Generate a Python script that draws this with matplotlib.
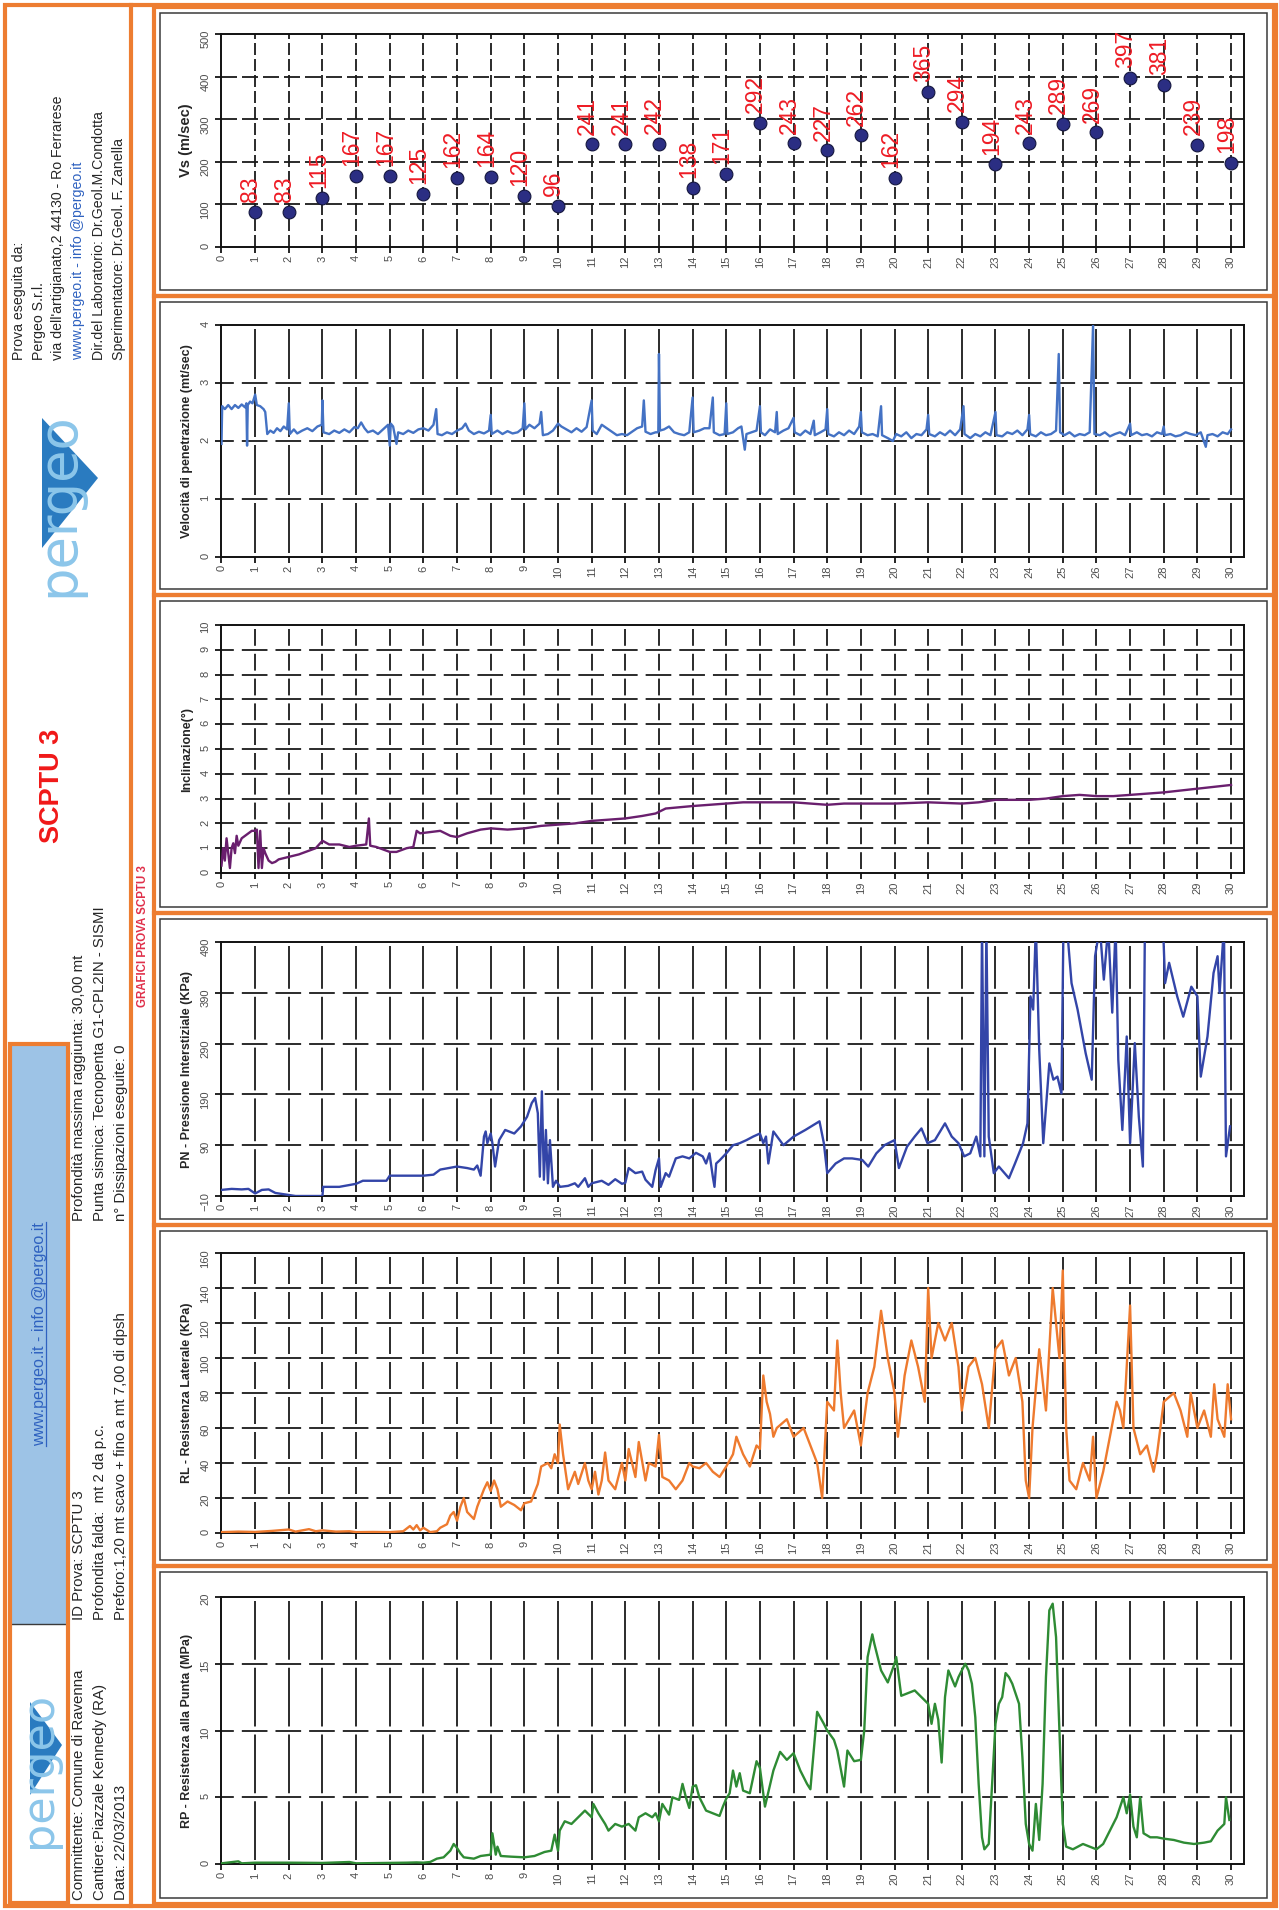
"""SCPTU 3 - seismic piezocone test sheet (landscape page turned on its side).

Six depth profiles share the depth axis (0-30 m, drawn horizontally):
Vs, penetration speed, inclination, pore pressure, sleeve and tip resistance.
"""

import matplotlib

matplotlib.use("Agg")

import matplotlib.pyplot as plt  # noqa: E402
from matplotlib.lines import Line2D  # noqa: E402
from matplotlib.patches import Polygon, Rectangle  # noqa: E402


# ---------------------------------------------------------------------------
# Page setup
# ---------------------------------------------------------------------------
PAGE_W, PAGE_H = 1279, 1910
DPI = 100
PT = 72.0 / DPI  # points per pixel

ORANGE = "#ED7D31"
FRAME_DARK = "#3A3A3A"
GRID_COLOR = "#1A1A1A"
TEXT_DARK = "#262626"
TICK_GRAY = "#4D4D4D"
LINK_BLUE = "#2F62C0"
TITLE_RED = "#F01818"

plt.rcParams["font.family"] = ["Liberation Sans", "DejaVu Sans"]
plt.rcParams["lines.scale_dashes"] = False


# ---------------------------------------------------------------------------
# Data (depth in m)
# ---------------------------------------------------------------------------
DEPTH_TICKS = list(range(0, 31))

VS_DEPTH = list(range(1, 31))
VS_VALUES = [83, 83, 115, 167, 167, 125, 162, 164, 120, 96,
             241, 241, 242, 138, 171, 292, 243, 227, 262, 162,
             365, 294, 194, 243, 289, 269, 397, 381, 239, 198]
VS_TICKS = [0, 100, 200, 300, 400, 500]

VEL_READINGS = [
    (0.00, 1.95), (0.02, 2.60), (0.10, 2.55), (0.20, 2.62), (0.30, 2.55),
    (0.40, 2.62), (0.50, 2.57), (0.60, 2.63), (0.70, 2.58), (0.74, 2.65),
    (0.76, 1.92), (0.78, 2.62), (0.85, 2.68), (0.92, 2.65), (1.00, 2.80),
    (1.05, 2.62), (1.15, 2.60), (1.25, 2.55), (1.30, 2.50), (1.36, 2.12),
    (1.45, 2.18), (1.55, 2.14), (1.65, 2.22), (1.75, 2.17), (1.85, 2.25),
    (1.95, 2.20), (2.00, 2.65), (2.03, 2.12), (2.15, 2.20), (2.25, 2.13),
    (2.40, 2.18), (2.55, 2.22), (2.70, 2.17), (2.85, 2.25), (2.98, 2.28),
    (3.00, 2.70), (3.03, 2.15), (3.20, 2.12), (3.35, 2.18), (3.50, 2.14),
    (3.65, 2.20), (3.80, 2.15), (3.95, 2.24), (4.05, 2.22), (4.15, 2.32),
    (4.25, 2.22), (4.35, 2.15), (4.50, 2.18), (4.65, 2.12), (4.80, 2.20),
    (4.95, 2.28), (5.00, 1.92), (5.03, 2.30), (5.10, 2.25), (5.20, 1.95),
    (5.25, 2.15), (5.40, 2.12), (5.55, 2.18), (5.70, 2.14), (5.85, 2.20),
    (6.00, 2.22), (6.15, 2.18), (6.30, 2.28), (6.38, 2.55), (6.42, 2.12),
    (6.55, 2.10), (6.70, 2.15), (6.85, 2.12), (7.00, 2.18), (7.15, 2.22),
    (7.25, 2.30), (7.35, 2.18), (7.50, 2.12), (7.65, 2.16), (7.80, 2.13),
    (7.95, 2.18), (8.00, 2.45), (8.03, 2.12), (8.20, 2.18), (8.35, 2.12),
    (8.50, 2.17), (8.65, 2.13), (8.80, 2.15), (8.95, 2.22), (9.00, 2.65),
    (9.03, 2.20), (9.15, 2.28), (9.30, 2.22), (9.45, 2.30), (9.50, 2.50),
    (9.55, 2.10), (9.70, 2.12), (9.85, 2.18), (10.00, 2.30), (10.10, 2.25),
    (10.25, 2.20), (10.40, 2.15), (10.55, 2.22), (10.70, 2.16), (10.85, 2.24),
    (11.00, 2.70), (11.03, 2.18), (11.15, 2.12), (11.30, 2.28), (11.45, 2.22),
    (11.60, 2.16), (11.75, 2.10), (11.90, 2.12), (12.05, 2.10), (12.20, 2.16),
    (12.35, 2.22), (12.50, 2.25), (12.55, 2.70), (12.60, 2.16), (12.75, 2.12),
    (12.90, 2.15), (12.98, 2.15), (13.00, 3.50), (13.03, 2.18), (13.15, 2.20),
    (13.30, 2.25), (13.45, 2.15), (13.60, 2.12), (13.75, 2.10), (13.90, 2.15),
    (14.00, 2.75), (14.03, 2.15), (14.20, 2.18), (14.35, 2.22), (14.50, 2.22),
    (14.60, 2.75), (14.63, 2.15), (14.80, 2.10), (14.95, 2.12), (15.00, 2.65),
    (15.03, 2.12), (15.20, 2.15), (15.35, 2.22), (15.45, 2.25), (15.55, 1.85),
    (15.60, 2.12), (15.75, 2.15), (15.90, 2.18), (16.00, 2.60), (16.03, 2.15),
    (16.15, 2.10), (16.30, 2.20), (16.45, 2.15), (16.50, 2.50), (16.53, 2.12),
    (16.70, 2.18), (16.85, 2.22), (17.00, 2.40), (17.03, 2.15), (17.20, 2.10),
    (17.35, 2.18), (17.50, 2.12), (17.60, 2.35), (17.63, 2.10), (17.80, 2.15),
    (17.95, 2.20), (18.00, 2.55), (18.03, 2.12), (18.20, 2.08), (18.35, 2.15),
    (18.50, 2.10), (18.65, 2.18), (18.80, 2.12), (18.95, 2.25), (19.00, 2.50),
    (19.03, 2.15), (19.20, 2.10), (19.35, 2.12), (19.50, 2.08), (19.60, 2.60),
    (19.63, 2.10), (19.80, 2.05), (19.95, 2.00), (20.05, 2.12), (20.20, 2.08),
    (20.35, 2.15), (20.50, 2.05), (20.65, 2.12), (20.80, 2.10), (20.95, 2.20),
    (21.00, 2.45), (21.03, 2.12), (21.20, 2.08), (21.35, 2.15), (21.50, 2.10),
    (21.65, 2.18), (21.80, 2.10), (21.95, 2.20), (22.05, 2.60), (22.08, 2.12),
    (22.25, 2.05), (22.40, 2.12), (22.55, 2.08), (22.70, 2.15), (22.85, 2.10),
    (23.00, 2.50), (23.03, 2.10), (23.20, 2.08), (23.35, 2.15), (23.50, 2.12),
    (23.65, 2.18), (23.80, 2.10), (23.95, 2.20), (24.00, 2.45), (24.03, 2.12),
    (24.20, 2.08), (24.35, 2.15), (24.50, 2.10), (24.65, 2.12), (24.80, 2.18),
    (24.88, 3.50), (24.92, 2.15), (25.05, 2.10), (25.20, 2.15), (25.35, 2.08),
    (25.50, 2.12), (25.65, 2.10), (25.80, 2.15), (25.90, 4.00), (25.94, 2.12),
    (26.10, 2.10), (26.25, 2.15), (26.40, 2.08), (26.55, 2.12), (26.70, 2.15),
    (26.85, 2.10), (27.00, 2.30), (27.03, 2.10), (27.20, 2.15), (27.35, 2.10),
    (27.50, 2.12), (27.65, 2.08), (27.80, 2.15), (27.95, 2.12), (28.00, 2.25),
    (28.03, 2.10), (28.20, 2.12), (28.35, 2.08), (28.50, 2.10), (28.65, 2.15),
    (28.80, 2.12), (28.95, 2.10), (29.10, 2.15), (29.25, 1.90), (29.30, 2.10),
    (29.45, 2.12), (29.60, 2.08), (29.75, 2.15), (29.90, 2.12), (30.00, 2.20),
]
VEL_TICKS = [0, 1, 2, 3, 4]

INCL_READINGS = [
    (0.00, 0.30), (0.05, 1.00), (0.10, 0.50), (0.15, 1.40), (0.20, 0.80),
    (0.25, 0.20), (0.30, 1.00), (0.35, 1.20), (0.40, 0.80), (0.45, 1.50),
    (0.50, 1.10), (0.60, 1.40), (0.70, 1.50), (0.80, 1.60), (0.90, 1.70),
    (1.00, 1.70), (1.05, 1.75), (1.10, 0.20), (1.15, 1.70), (1.20, 0.20),
    (1.25, 1.00), (1.30, 0.80), (1.40, 0.50), (1.50, 0.40), (1.60, 0.45),
    (1.70, 0.55), (2.00, 0.65), (2.30, 0.75), (2.60, 0.90), (2.80, 1.00),
    (3.00, 1.30), (3.20, 1.15), (3.50, 1.15), (3.80, 1.05), (4.00, 1.10),
    (4.30, 1.15), (4.38, 2.20), (4.42, 1.10), (4.60, 1.05), (4.80, 0.95),
    (5.00, 0.85), (5.20, 0.85), (5.50, 1.00), (5.70, 1.05), (5.80, 1.70),
    (5.90, 1.60), (6.20, 1.65), (6.50, 1.70), (6.80, 1.50), (7.00, 1.45),
    (7.30, 1.60), (7.70, 1.75), (8.00, 1.80), (8.50, 1.75), (9.00, 1.80),
    (9.50, 1.90), (10.00, 1.95), (10.50, 2.00), (11.00, 2.10), (11.50, 2.15),
    (12.00, 2.20), (12.50, 2.30), (12.90, 2.40), (13.20, 2.60), (13.60, 2.65),
    (14.00, 2.70), (14.50, 2.75), (15.00, 2.80), (15.50, 2.85), (16.00, 2.85),
    (16.50, 2.85), (17.00, 2.85), (17.50, 2.80), (18.00, 2.75), (18.50, 2.80),
    (19.00, 2.80), (19.50, 2.80), (20.00, 2.80), (21.00, 2.85), (22.00, 2.80),
    (22.50, 2.85), (23.00, 2.95), (23.50, 2.95), (24.00, 2.95), (24.50, 3.00),
    (25.00, 3.10), (25.50, 3.15), (26.00, 3.10), (26.50, 3.10), (27.00, 3.15),
    (28.00, 3.25), (29.00, 3.40), (30.00, 3.55),
]
INCL_TICKS = list(range(0, 11))

PN_READINGS = [
    (0.00, 2), (0.30, 4), (0.60, 3), (0.80, 4), (1.00, -5), (1.20, 2),
    (1.40, 3), (1.60, -4), (2.00, -8), (2.20, -10), (3.00, -10), (3.02, 8),
    (3.50, 8), (4.00, 14), (4.20, 20), (4.90, 20), (5.00, 30), (6.00, 30),
    (6.30, 32), (6.50, 42), (7.00, 48), (7.30, 45), (7.50, 42), (7.60, 50),
    (7.70, 30), (7.80, 107), (7.85, 117), (7.90, 94), (8.00, 113), (8.05, 94),
    (8.13, 48), (8.25, 100), (8.43, 120), (8.70, 113), (8.90, 127), (9.08, 146),
    (9.22, 173), (9.32, 183), (9.40, 153), (9.46, 28), (9.52, 196), (9.58, 22),
    (9.64, 120), (9.70, 15), (9.76, 100), (9.85, 8), (9.94, 20), (10.06, 8),
    (10.30, 10), (10.50, 15), (10.60, 8), (10.80, 25), (10.90, 8), (11.00, 15),
    (11.30, 20), (11.50, 12), (11.70, 23), (11.90, 14), (12.00, 16), (12.10, 45),
    (12.30, 35), (12.50, 38), (12.60, 22), (12.80, 8), (12.90, 41), (13.00, 64),
    (13.05, 8), (13.20, 35), (13.30, 28), (13.50, 64), (13.70, 68), (13.90, 64),
    (14.10, 75), (14.30, 68), (14.40, 54), (14.50, 74), (14.60, 28), (14.65, 8),
    (14.70, 54), (14.80, 60), (15.00, 74), (15.20, 90), (15.40, 94), (15.60, 100),
    (15.80, 107), (16.00, 113), (16.10, 94), (16.18, 107), (16.25, 54),
    (16.40, 117), (16.70, 90), (17.00, 107), (17.35, 120), (17.60, 130),
    (17.77, 137), (17.90, 94), (18.00, 35), (18.25, 54), (18.50, 64),
    (18.74, 64), (19.04, 61), (19.22, 48), (19.46, 74), (19.70, 90),
    (20.00, 100), (20.13, 45), (20.37, 87), (20.60, 107), (20.80, 123),
    (20.98, 94), (21.20, 100), (21.50, 133), (21.70, 107), (21.90, 94),
    (22.07, 68), (22.25, 74), (22.43, 107), (22.55, 68), (22.60, 520),
    (22.67, 68), (22.73, 520), (22.80, 107), (22.95, 35), (23.10, 48),
    (23.27, 35), (23.40, 25), (23.58, 54), (23.82, 94), (23.95, 133),
    (24.04, 383), (24.12, 357), (24.20, 520), (24.30, 278), (24.42, 94),
    (24.60, 251), (24.72, 219), (24.84, 225), (24.96, 192), (25.02, 520),
    (25.14, 507), (25.26, 409), (25.44, 357), (25.68, 271), (25.86, 219),
    (25.96, 462), (26.10, 520), (26.22, 416), (26.35, 520), (26.47, 351),
    (26.57, 520), (26.65, 258), (26.77, 120), (26.90, 304), (27.00, 94),
    (27.14, 291), (27.26, 146), (27.38, 48), (27.44, 520), (27.60, 505),
    (27.74, 520), (27.98, 520), (28.04, 409), (28.16, 449), (28.40, 383),
    (28.58, 343), (28.82, 402), (29.00, 383), (29.10, 225), (29.30, 304),
    (29.48, 429), (29.60, 462), (29.66, 390), (29.79, 520), (29.85, 68),
    (29.97, 127),
]
PN_TICKS = [-10, 90, 190, 290, 390, 490]

RL_READINGS = [
    (0.00, 0.5), (0.50, 0.8), (1.00, 0.6), (1.50, 1.2), (2.00, 2.0),
    (2.20, 0.8), (2.60, 2.2), (2.80, 1.0), (3.00, 1.5), (3.40, 0.8),
    (3.80, 1.0), (4.00, 0.5), (4.50, 0.6), (5.00, 0.5), (5.40, 1.0),
    (5.60, 4.0), (5.70, 2.0), (5.80, 4.5), (5.90, 1.5), (6.00, 3.0),
    (6.20, 0.5), (6.40, 1.0), (6.50, 3.0), (6.70, 5.0), (6.80, 10.0),
    (6.90, 12.0), (7.00, 7.0), (7.10, 15.0), (7.20, 20.0), (7.30, 12.0),
    (7.50, 8.0), (7.60, 15.0), (7.80, 25.0), (7.90, 29.0), (8.00, 24.0),
    (8.10, 30.0), (8.20, 25.0), (8.30, 15.0), (8.50, 18.0), (8.70, 16.0),
    (8.90, 13.0), (9.00, 17.0), (9.20, 18.0), (9.40, 28.0), (9.50, 38.0),
    (9.70, 40.0), (9.80, 37.0), (9.90, 45.0), (10.00, 40.0), (10.05, 62.0),
    (10.15, 45.0), (10.30, 25.0), (10.50, 35.0), (10.60, 28.0), (10.80, 40.0),
    (10.90, 30.0), (11.00, 25.0), (11.10, 35.0), (11.20, 22.0), (11.30, 30.0),
    (11.40, 46.0), (11.50, 30.0), (11.70, 25.0), (11.90, 40.0), (12.00, 30.0),
    (12.10, 48.0), (12.30, 32.0), (12.40, 52.0), (12.60, 30.0), (12.70, 40.0),
    (12.90, 38.0), (13.00, 56.0), (13.10, 32.0), (13.30, 30.0), (13.50, 25.0),
    (13.70, 30.0), (13.90, 40.0), (14.00, 38.0), (14.20, 37.0), (14.40, 40.0),
    (14.60, 35.0), (14.80, 32.0), (15.00, 38.0), (15.20, 45.0), (15.30, 55.0),
    (15.50, 45.0), (15.70, 38.0), (15.90, 50.0), (16.00, 48.0), (16.10, 90.0),
    (16.20, 75.0), (16.30, 68.0), (16.40, 55.0), (16.50, 60.0), (16.80, 65.0),
    (17.00, 55.0), (17.30, 60.0), (17.50, 50.0), (17.70, 40.0), (17.85, 20.0),
    (18.00, 75.0), (18.20, 70.0), (18.30, 110.0), (18.40, 80.0), (18.50, 60.0),
    (18.80, 70.0), (19.00, 50.0), (19.20, 80.0), (19.40, 95.0), (19.60, 127.0),
    (19.80, 100.0), (20.00, 80.0), (20.10, 55.0), (20.30, 90.0), (20.50, 110.0),
    (20.70, 95.0), (20.90, 75.0), (21.00, 140.0), (21.10, 100.0), (21.30, 120.0),
    (21.50, 110.0), (21.70, 120.0), (21.90, 95.0), (22.00, 70.0), (22.20, 95.0),
    (22.40, 100.0), (22.60, 85.0), (22.80, 60.0), (23.00, 105.0), (23.20, 110.0),
    (23.40, 90.0), (23.60, 100.0), (23.80, 75.0), (23.90, 30.0), (24.00, 20.0),
    (24.10, 60.0), (24.30, 105.0), (24.50, 70.0), (24.70, 140.0), (24.90, 100.0),
    (25.00, 150.0), (25.10, 60.0), (25.20, 30.0), (25.40, 25.0), (25.60, 40.0),
    (25.80, 30.0), (25.90, 55.0), (26.00, 20.0), (26.20, 35.0), (26.40, 55.0),
    (26.60, 75.0), (26.70, 70.0), (26.80, 60.0), (27.00, 130.0), (27.10, 60.0),
    (27.30, 45.0), (27.50, 50.0), (27.70, 35.0), (27.80, 45.0), (27.90, 60.0),
    (28.00, 75.0), (28.30, 80.0), (28.50, 70.0), (28.70, 55.0), (28.80, 80.0),
    (29.00, 60.0), (29.20, 70.0), (29.40, 55.0), (29.50, 85.0), (29.60, 65.0),
    (29.80, 55.0), (29.90, 85.0), (30.00, 65.0),
]
RL_TICKS = [0, 20, 40, 60, 80, 100, 120, 140, 160]

RP_READINGS = [
    (0.00, 0.05), (0.50, 0.20), (0.60, 0.05), (1.00, 0.10), (2.00, 0.10),
    (3.00, 0.08), (3.80, 0.15), (4.00, 0.05), (5.00, 0.08), (5.50, 0.10),
    (5.80, 0.12), (6.00, 0.10), (6.20, 0.15), (6.40, 0.40), (6.60, 0.50),
    (6.80, 1.00), (6.90, 1.50), (7.00, 1.20), (7.10, 0.80), (7.20, 0.50),
    (7.50, 0.40), (7.70, 0.60), (8.00, 0.70), (8.05, 2.30), (8.15, 0.70),
    (8.20, 1.30), (8.30, 0.60), (8.60, 0.55), (9.00, 0.50), (9.30, 0.60),
    (9.60, 0.90), (9.80, 1.00), (9.90, 2.20), (10.00, 1.00), (10.05, 2.50),
    (10.20, 3.20), (10.40, 3.00), (10.60, 3.50), (10.80, 4.00), (11.00, 3.50),
    (11.05, 4.50), (11.20, 3.80), (11.40, 3.00), (11.50, 2.50), (11.70, 3.00),
    (11.90, 2.80), (12.10, 3.00), (12.30, 2.50), (12.40, 3.50), (12.60, 3.80),
    (12.80, 3.50), (12.90, 3.80), (13.00, 3.20), (13.10, 4.50), (13.30, 3.70),
    (13.40, 5.00), (13.60, 4.80), (13.70, 6.00), (13.80, 5.00), (13.90, 4.20),
    (14.00, 5.80), (14.10, 5.90), (14.20, 5.00), (14.40, 4.00), (14.60, 3.80),
    (14.80, 3.60), (14.90, 4.30), (15.00, 4.90), (15.10, 5.30), (15.20, 7.00),
    (15.30, 5.80), (15.40, 6.80), (15.50, 5.50), (15.70, 5.30), (15.90, 7.70),
    (16.00, 7.20), (16.15, 4.30), (16.40, 7.00), (16.60, 8.40), (16.80, 7.80),
    (17.00, 8.30), (17.20, 7.00), (17.40, 6.00), (17.50, 5.60), (17.70, 11.40),
    (17.90, 10.50), (18.00, 10.00), (18.20, 9.30), (18.30, 8.50), (18.50, 5.80),
    (18.60, 8.50), (18.80, 7.70), (19.00, 7.80), (19.10, 10.00), (19.20, 15.50),
    (19.34, 17.20), (19.40, 16.50), (19.60, 14.50), (19.80, 13.60), (20.00, 15.00),
    (20.05, 15.50), (20.20, 12.60), (20.40, 12.80), (20.60, 13.00), (20.80, 12.50),
    (21.00, 12.00), (21.10, 10.50), (21.20, 12.00), (21.30, 10.80), (21.40, 7.60),
    (21.50, 12.50), (21.60, 14.50), (21.80, 13.30), (21.90, 14.00), (22.00, 14.50),
    (22.10, 15.00), (22.20, 14.50), (22.30, 13.50), (22.40, 11.00), (22.50, 6.00),
    (22.60, 2.00), (22.67, 1.10), (22.80, 1.50), (22.90, 6.00), (23.00, 10.50),
    (23.10, 12.00), (23.20, 12.50), (23.30, 14.30), (23.40, 14.00), (23.50, 13.50),
    (23.70, 12.00), (23.80, 8.00), (23.90, 3.00), (24.00, 1.50), (24.10, 1.00),
    (24.20, 4.50), (24.30, 1.80), (24.40, 6.00), (24.50, 14.00), (24.60, 19.00),
    (24.70, 19.50), (24.80, 17.00), (24.90, 10.00), (25.00, 3.00), (25.10, 1.30),
    (25.30, 1.10), (25.60, 1.50), (25.80, 1.30), (26.00, 1.10), (26.20, 1.50),
    (26.40, 2.50), (26.60, 3.50), (26.80, 5.00), (26.90, 3.80), (27.00, 5.20),
    (27.10, 2.80), (27.20, 2.00), (27.30, 5.00), (27.40, 2.30), (27.60, 2.00),
    (27.80, 2.00), (28.00, 1.90), (28.30, 1.80), (28.60, 1.60), (28.90, 1.50),
    (29.20, 1.60), (29.40, 1.70), (29.60, 2.50), (29.80, 3.00), (29.85, 5.00),
    (29.95, 3.30),
]
RP_TICKS = [0, 5, 10, 15, 20]


# ---------------------------------------------------------------------------
# Layout (pixels from the page top-left corner)
# ---------------------------------------------------------------------------
PLOT_LEFT, PLOT_RIGHT = 221.5, 1244.5  # depth 0 .. depth 30.4
DEPTH_MAX = 30.4
FRAME_LEFT, FRAME_RIGHT = 154, 1274

# name: (frame top, frame bottom, plot top, plot bottom)
PANEL_BOXES = {
    "vs": (7, 296, 34, 247),
    "vel": (296, 595, 325, 557),
    "incl": (595, 913, 625, 873),
    "pn": (913, 1225, 942, 1196),
    "rl": (1225, 1566, 1253, 1533),
    "rp": (1566, 1904, 1597, 1864),
}


def fig_rect(left, top, right, bottom):
    return [left / PAGE_W, 1 - bottom / PAGE_H,
            (right - left) / PAGE_W, (bottom - top) / PAGE_H]


# ---------------------------------------------------------------------------
# Panel helpers
# ---------------------------------------------------------------------------
def style_axes(ax, yticks, ylabel, label_size):
    ax.set_xlim(0, DEPTH_MAX)
    ax.set_ylim(yticks[0], yticks[-1])
    ax.set_xticks(DEPTH_TICKS)
    ax.set_yticks(yticks)
    ax.tick_params(axis="x", labelrotation=90, labelsize=8, labelcolor=TICK_GRAY,
                   length=4, width=1.2, pad=2, color="black")
    ax.tick_params(axis="y", labelrotation=90, labelsize=8, labelcolor=TICK_GRAY,
                   length=4, width=1.2, pad=4, color="black")
    for spine in ax.spines.values():
        spine.set_linewidth(1.4)
        spine.set_color("#111111")
    ax.set_ylabel(ylabel, fontsize=label_size, fontweight="bold",
                  color=TEXT_DARK, labelpad=5)
    ax.set_facecolor("white")


def draw_grid(ax, yticks, plot_h, aligned):
    """Black dashed grid; on the larger panels the dash period follows the
    cell size so the dashes meet in crosses at every intersection."""
    lw = 1.3
    cell_w = (PLOT_RIGHT - PLOT_LEFT) / DEPTH_MAX
    cell_h = plot_h / (len(yticks) - 1)
    if aligned:
        gap = 8 * PT
        sv = cell_h * PT
        sh = cell_w * PT
        v_style = (sv - gap / 2, (sv - gap, gap))
        h_style = ((sh - gap) / 2, (sh - gap, gap))
    else:
        v_style = (0, (12 * PT, 4 * PT))
        h_style = (0, (16 * PT, 5 * PT))
    for d in DEPTH_TICKS[1:]:
        ax.axvline(d, color=GRID_COLOR, lw=lw, linestyle=v_style, zorder=1)
    for v in yticks[1:-1]:
        ax.axhline(v, color=GRID_COLOR, lw=lw, linestyle=h_style, zorder=1)


def make_panel(fig, key, yticks, ylabel, aligned=True, label_size=9):
    _, _, top, bottom = PANEL_BOXES[key]
    ax = fig.add_axes(fig_rect(PLOT_LEFT, top, PLOT_RIGHT, bottom), zorder=2)
    style_axes(ax, yticks, ylabel, label_size)
    draw_grid(ax, yticks, bottom - top, aligned)
    return ax


def plot_profile(ax, readings, color):
    depth = [d for d, _ in readings]
    values = [v for _, v in readings]
    ax.plot(depth, values, color=color, lw=1.7, zorder=3,
            solid_joinstyle="round")


# ---------------------------------------------------------------------------
# Page frame and header block
# ---------------------------------------------------------------------------
def draw_frames(page):
    def box(x0, y0, x1, y1, color, lw, face="none", z=1):
        page.add_patch(Rectangle((x0, y0), x1 - x0, y1 - y0, facecolor=face,
                                 edgecolor=color, lw=lw, zorder=z))

    # blue link band and white logo cell of the lower header box
    box(10, 1044, 68, 1624, "none", 0, face="#9DC3E6", z=0)
    page.plot([10, 68], [1624, 1624], color=FRAME_DARK, lw=1.0, zorder=1)

    box(5, 5, 1276, 1906, ORANGE, 3.0)
    box(10, 1044, 68, 1903, ORANGE, 3.0)
    page.plot([131, 131], [5, 1906], color=ORANGE, lw=3.0, zorder=1)
    for top, bottom, _, _ in PANEL_BOXES.values():
        box(FRAME_LEFT, top, FRAME_RIGHT, bottom, ORANGE, 3.0)
        box(FRAME_LEFT + 6, top + 6, FRAME_RIGHT - 7, bottom - 6,
            FRAME_DARK, 1.1)


def draw_logo(page, cx, cy, size, tri):
    page.add_patch(Polygon(tri, closed=True, facecolor="#2A7BC0",
                           edgecolor="none", zorder=2))
    page.text(cx, cy, "pergeo", rotation=90, ha="center", va="center",
              fontsize=size, color="#8CC6EA", family=["DejaVu Sans"],
              zorder=3)


def vtext(page, x, y, s, size=10.8, color=TEXT_DARK, weight="normal"):
    return page.text(x, y, s, rotation=90, ha="center", va="bottom",
                     fontsize=size, color=color, fontweight=weight, zorder=3)


def draw_header(fig, page):
    company = [
        "Prova eseguita da:",
        "Pergeo S.r.l.",
        "via dell'artigianato,2 44130 - Ro Ferrarese",
        "www.pergeo.it - info @pergeo.it",
        "Dir.del Laboratorio: Dr.Geol.M.Condotta",
        "Sperimentatore: Dr.Geol. F. Zanella",
    ]
    for x, line in zip([19, 39, 58, 78, 99, 119], company):
        color = LINK_BLUE if line.startswith("www") else TEXT_DARK
        vtext(page, x, 360, line, size=10.2, color=color)

    draw_logo(page, 58, 505, 38, [(42, 418), (98, 478), (42, 548)])
    draw_logo(page, 38, 1770, 32, [(30, 1702), (62, 1745), (30, 1795)])

    page.text(52, 786, "SCPTU 3", rotation=90, ha="center", va="center",
              fontsize=19.5, fontweight="bold", color=TITLE_RED, zorder=3)

    test_info = [
        "Profondità massima raggiunta: 30,00 mt",
        "Punta sismica: Tecnopenta G1-CPL2IN - SISMI",
        "n° Dissipazioni eseguite: 0",
    ]
    for x, line in zip([79, 100, 121], test_info):
        vtext(page, x, 1221, line)

    page.text(143, 936, "GRAFICI PROVA SCPTU 3", rotation=90, ha="center",
              va="center", fontsize=8.3, fontweight="bold", color="#E0304A",
              zorder=3)

    site_info = [
        "ID Prova: SCPTU 3",
        "Profondita falda:  mt 2 da p.c.",
        "Preforo:1,20 mt scavo + fino a mt 7,00 di dpsh",
    ]
    for x, line in zip([79, 100, 121], site_info):
        vtext(page, x, 1620, line)

    client_info = [
        "Committente: Comune di Ravenna",
        "Cantiere:Piazzale Kennedy (RA)",
        "Data: 22/03/2013",
    ]
    for x, line in zip([79, 100, 121], client_info):
        vtext(page, x, 1900, line)

    link = page.text(40, 1334, "www.pergeo.it - info @pergeo.it", rotation=90,
                     ha="center", va="center", fontsize=11.5, color=LINK_BLUE,
                     zorder=3)
    # underline: for text turned 90 degrees it runs on the right-hand side
    fig.canvas.draw()
    bb = link.get_window_extent()
    inv = page.transData.inverted()
    (x0, y0), (x1, y1) = inv.transform([[bb.x0, bb.y0], [bb.x1, bb.y1]])
    page.add_line(Line2D([x1 - 2, x1 - 2], [y0, y1], color=LINK_BLUE,
                         lw=0.9, zorder=3))


# ---------------------------------------------------------------------------
# Main
# ---------------------------------------------------------------------------
def main():
    fig = plt.figure(figsize=(PAGE_W / DPI, PAGE_H / DPI), dpi=DPI)
    fig.patch.set_facecolor("white")

    page = fig.add_axes([0, 0, 1, 1], zorder=0)
    page.set_xlim(0, PAGE_W)
    page.set_ylim(PAGE_H, 0)
    page.axis("off")
    draw_frames(page)

    # Vs: one reading per metre, value written above each point
    ax = make_panel(fig, "vs", VS_TICKS, "Vs (m/sec)", aligned=False,
                    label_size=10.5)
    ax.scatter(VS_DEPTH, VS_VALUES, s=85, color="#2B2E83",
               edgecolor="#15173F", linewidth=0.8, zorder=4)
    for d, v in zip(VS_DEPTH, VS_VALUES):
        ax.annotate(str(v), (d, v), xytext=(-3, 7), textcoords="offset points",
                    rotation=90, ha="center", va="bottom", fontsize=16.5,
                    color="#EE1C25", zorder=5)

    ax = make_panel(fig, "vel", VEL_TICKS, "Velocità di penetrazione (mt/sec)")
    plot_profile(ax, VEL_READINGS, "#4472C4")

    ax = make_panel(fig, "incl", INCL_TICKS, "Inclinazione(°)")
    plot_profile(ax, INCL_READINGS, "#6A1F6E")

    ax = make_panel(fig, "pn", PN_TICKS, "PN - Pressione Interstiziale (KPa)")
    plot_profile(ax, PN_READINGS, "#3345A8")

    ax = make_panel(fig, "rl", RL_TICKS, "RL - Resistenza Laterale (KPa)")
    plot_profile(ax, RL_READINGS, "#EE7A2E")

    ax = make_panel(fig, "rp", RP_TICKS, "RP - Resistenza alla Punta (MPa)")
    plot_profile(ax, RP_READINGS, "#2E8B34")

    draw_header(fig, page)

    fig.savefig("out.png", dpi=DPI)
    plt.close(fig)


if __name__ == "__main__":
    main()
